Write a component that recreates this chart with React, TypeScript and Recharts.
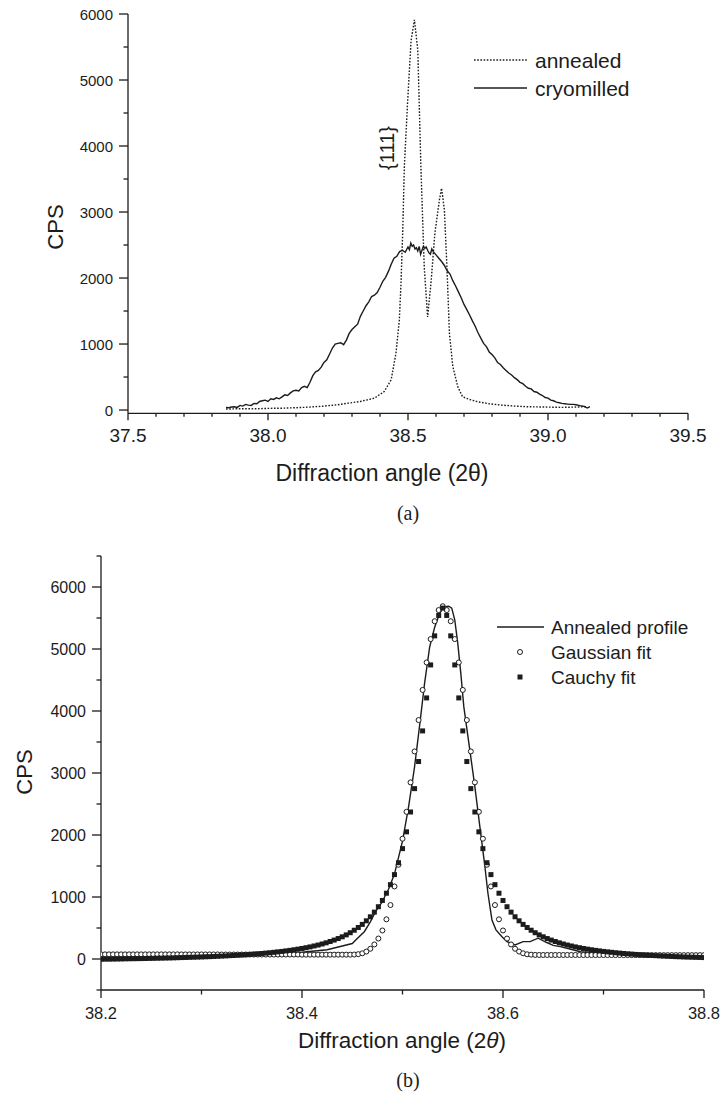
import React from "react"
import { ComposedChart, Line, Scatter, XAxis, YAxis } from "recharts"

const INK = "#1c1c1c"
const SANS = "'Liberation Sans', Arial, Helvetica, sans-serif"
const SERIF = "'Liberation Serif', 'Times New Roman', serif"

// ---------- (a) annealed vs cryomilled ----------
const annealedAngle = [
  37.85, 37.9, 37.95, 38.0, 38.05, 38.1, 38.15, 38.2, 38.25, 38.28, 38.33, 38.38, 38.415, 38.44, 38.457,
  38.469, 38.475, 38.481, 38.487, 38.499, 38.511, 38.523, 38.535, 38.546, 38.558, 38.57, 38.582, 38.596,
  38.612, 38.62, 38.63, 38.639, 38.648, 38.66, 38.678, 38.695, 38.72, 38.749, 38.79, 38.832, 38.88, 38.927,
  38.99, 39.05, 39.1, 39.14,
]
const annealedCps = [
  15, 20, 18, 25, 28, 35, 45, 60, 80, 100, 130, 180, 280, 460, 860,
  1360, 1920, 2680, 3690, 4700, 5600, 5910, 5450, 3690, 2170, 1410, 1920, 2680,
  3180, 3360, 3030, 2170, 1160, 660, 350, 200, 160, 125, 95, 75, 60, 50,
  45, 40, 45, 50,
]

const cryoAngle = [
  37.85, 37.86, 37.87, 37.88, 37.89, 37.9, 37.91, 37.92, 37.93, 37.94, 37.95, 37.96, 37.97, 37.98, 37.99,
  38.0, 38.01, 38.02, 38.03, 38.04, 38.05, 38.06, 38.07, 38.08, 38.09, 38.1, 38.11, 38.12, 38.13, 38.14,
  38.15, 38.16, 38.17, 38.18, 38.19, 38.2, 38.21, 38.22, 38.23, 38.24, 38.25, 38.26, 38.27, 38.28, 38.29,
  38.3, 38.31, 38.32, 38.33, 38.34, 38.35, 38.36, 38.37, 38.38, 38.39, 38.4, 38.41, 38.42, 38.43, 38.44,
  38.45, 38.46, 38.47, 38.48, 38.49, 38.5, 38.505, 38.51, 38.515, 38.52, 38.525, 38.53, 38.535, 38.54, 38.545,
  38.55, 38.555, 38.56, 38.565, 38.57, 38.575, 38.58, 38.585, 38.59, 38.6, 38.61, 38.62, 38.63, 38.64, 38.65,
  38.66, 38.67, 38.68, 38.69, 38.7, 38.71, 38.72, 38.73, 38.74, 38.75, 38.76, 38.77, 38.78, 38.79, 38.8,
  38.81, 38.82, 38.83, 38.84, 38.85, 38.86, 38.87, 38.88, 38.89, 38.9, 38.91, 38.92, 38.93, 38.94, 38.95,
  38.96, 38.97, 38.98, 38.99, 39.0, 39.01, 39.02, 39.03, 39.04, 39.05, 39.06, 39.07, 39.08, 39.09, 39.1,
  39.11, 39.12, 39.13, 39.14, 39.15,
]
const cryoCps = [
  40, 35, 45, 50, 40, 70, 60, 85, 75, 70, 100, 95, 130, 140, 150,
  130, 170, 160, 185, 170, 200, 230, 220, 260, 290, 300, 290, 340, 360, 340,
  420, 520, 580, 600, 650, 720, 760, 850, 940, 1000, 1010, 1020, 990, 1060, 1160,
  1220, 1260, 1300, 1420, 1500, 1580, 1640, 1720, 1740, 1780, 1860, 1950, 2010, 2100, 2210,
  2300, 2330, 2400, 2420, 2390, 2470, 2430, 2530, 2480, 2500, 2440, 2460, 2410, 2480, 2360,
  2420, 2480, 2450, 2470, 2420, 2380, 2360, 2440, 2400, 2350, 2300, 2250, 2190, 2110, 2060,
  1960, 1880, 1790, 1700, 1600, 1520, 1440, 1350, 1270, 1170, 1090, 1010, 960, 880, 840,
  790, 720, 690, 640, 600, 560, 530, 490, 460, 420, 400, 360, 330, 320, 280,
  270, 240, 220, 190, 180, 150, 140, 120, 110, 100, 95, 90, 85, 85, 80,
  70, 60, 55, 30, 50,
]

const aXTicks = [37.5, 37.6, 37.7, 37.8, 37.9, 38.0, 38.1, 38.2, 38.3, 38.4, 38.5, 38.6, 38.7, 38.8, 38.9, 39.0, 39.1, 39.2, 39.3, 39.4, 39.5]
const aYTicks = [0, 500, 1000, 1500, 2000, 2500, 3000, 3500, 4000, 4500, 5000, 5500, 6000]

// ---------- (b) annealed profile with fits ----------
const profileAngle = [
  38.2, 38.25, 38.3, 38.35, 38.4, 38.425, 38.45, 38.455, 38.462, 38.468, 38.473, 38.479, 38.486, 38.492,
  38.5, 38.506, 38.512, 38.517, 38.522, 38.527, 38.532, 38.537, 38.541, 38.546, 38.549, 38.552, 38.555,
  38.558, 38.561, 38.567, 38.572, 38.577, 38.582, 38.585, 38.589, 38.593, 38.599, 38.604, 38.612, 38.62,
  38.627, 38.635, 38.643, 38.65, 38.657, 38.677, 38.7, 38.75, 38.8,
]
const profileCps = [
  0, 15, 35, 60, 110, 150, 250, 330, 440, 600, 760, 900, 1120, 1370,
  1900, 2450, 3100, 3760, 4450, 5030, 5350, 5575, 5680, 5690, 5660, 5470, 5090,
  4610, 4070, 3370, 2780, 2130, 1490, 1060, 630, 470, 360, 280, 226, 280,
  280, 335, 270, 220, 200, 118, 85, 50, 25,
]

const fitAngle = [
  38.2, 38.204, 38.208, 38.212, 38.216, 38.22, 38.224, 38.228, 38.232, 38.236,
  38.24, 38.244, 38.248, 38.252, 38.256, 38.26, 38.264, 38.268, 38.272, 38.276,
  38.28, 38.284, 38.288, 38.292, 38.296, 38.3, 38.304, 38.308, 38.312, 38.316,
  38.32, 38.324, 38.328, 38.332, 38.336, 38.34, 38.344, 38.348, 38.352, 38.356,
  38.36, 38.364, 38.368, 38.372, 38.376, 38.38, 38.384, 38.388, 38.392, 38.396,
  38.4, 38.404, 38.408, 38.412, 38.416, 38.42, 38.424, 38.428, 38.432, 38.436,
  38.44, 38.444, 38.448, 38.452, 38.456, 38.46, 38.464, 38.468, 38.472, 38.476,
  38.48, 38.484, 38.488, 38.492, 38.496, 38.5, 38.504, 38.508, 38.512, 38.516,
  38.52, 38.524, 38.528, 38.532, 38.536, 38.54, 38.544, 38.548, 38.552, 38.556,
  38.56, 38.564, 38.568, 38.572, 38.576, 38.58, 38.584, 38.588, 38.592, 38.596,
  38.6, 38.604, 38.608, 38.612, 38.616, 38.62, 38.624, 38.628, 38.632, 38.636,
  38.64, 38.644, 38.648, 38.652, 38.656, 38.66, 38.664, 38.668, 38.672, 38.676,
  38.68, 38.684, 38.688, 38.692, 38.696, 38.7, 38.704, 38.708, 38.712, 38.716,
  38.72, 38.724, 38.728, 38.732, 38.736, 38.74, 38.744, 38.748, 38.752, 38.756,
  38.76, 38.764, 38.768, 38.772, 38.776, 38.78, 38.784, 38.788, 38.792, 38.796,
  38.8,
]
const gaussCps = [
  75, 75, 75, 75, 75, 75, 75, 75, 75, 75,
  75, 75, 75, 75, 75, 75, 75, 75, 75, 75,
  74, 74, 74, 74, 74, 74, 74, 74, 74, 74,
  72, 72, 72, 72, 72, 72, 72, 72, 72, 72,
  72, 72, 72, 72, 72, 72, 72, 72, 72, 72,
  70, 70, 70, 70, 70, 70, 70, 70, 70, 70,
  70, 70, 70, 72, 78, 92, 120, 165, 235, 330,
  460, 640, 870, 1170, 1520, 1940, 2374, 2849, 3348, 3854,
  4340, 4783, 5160, 5448, 5628, 5690, 5628, 5448, 5160, 4783,
  4340, 3854, 3348, 2849, 2374, 1940, 1520, 1170, 870, 640,
  460, 330, 235, 165, 120, 92, 76, 70, 66, 65,
  65, 65, 65, 65, 65, 65, 65, 65, 65, 65,
  64, 64, 64, 64, 64, 64, 64, 64, 64, 64,
  63, 63, 63, 63, 63, 63, 63, 63, 63, 63,
  62, 62, 62, 62, 62, 62, 62, 62, 62, 62,
  62,
]
const cauchyCps = [
  -3, -2, -2, -1, 0, 1, 3, 4, 5, 6,
  7, 8, 10, 11, 13, 14, 16, 17, 19, 21,
  23, 25, 27, 29, 31, 33, 36, 38, 41, 44,
  47, 50, 54, 57, 61, 65, 69, 74, 79, 84,
  89, 95, 101, 108, 115, 122, 131, 139, 149, 159,
  170, 182, 195, 210, 225, 242, 261, 282, 305, 330,
  358, 389, 424, 464, 508, 558, 616, 681, 756, 843,
  944, 1061, 1199, 1361, 1553, 1780, 2051, 2371, 2748, 3185,
  3679, 4211, 4743, 5212, 5541, 5660, 5541, 5212, 4743, 4211,
  3679, 3185, 2748, 2371, 2051, 1780, 1553, 1361, 1199, 1061,
  944, 843, 756, 681, 616, 558, 508, 464, 424, 389,
  358, 330, 305, 282, 261, 242, 225, 210, 195, 182,
  170, 159, 149, 139, 131, 122, 115, 108, 101, 95,
  89, 84, 79, 74, 69, 65, 61, 57, 54, 50,
  47, 44, 41, 38, 36, 33, 31, 29, 27, 25,
  23,
]

const bXTicks = [38.2, 38.3, 38.4, 38.5, 38.6, 38.7, 38.8]
const bYTicks = [-500, 0, 500, 1000, 1500, 2000, 2500, 3000, 3500, 4000, 4500, 5000, 5500, 6000, 6500]

const pairs = (xs: number[], ys: number[]) => xs.map((angle, i) => ({ angle, cps: ys[i] }))

const annealedData = pairs(annealedAngle, annealedCps)
const cryoData = pairs(cryoAngle, cryoCps)
const profileData = pairs(profileAngle, profileCps)
const gaussData = pairs(fitAngle, gaussCps)
const cauchyData = pairs(fitAngle, cauchyCps)

type TickOpts = {
  major: (v: number) => boolean
  long: number
  short: number
  gap: number
  size: number
  fmt: (v: number) => string
}

// axis ticks drawn by hand so minor ticks can be shorter than the labelled ones
const bottomTick = (o: TickOpts) => (p: any) => {
  const v = p.payload.value
  const big = o.major(v)
  return (
    <g>
      <line x1={p.x} x2={p.x} y1={p.y} y2={p.y + (big ? o.long : o.short)} stroke={INK} strokeWidth={1.3} />
      {big && (
        <text x={p.x} y={p.y + o.gap} textAnchor="middle" dominantBaseline="central" fontSize={o.size} fontFamily={SANS} fill={INK}>
          {o.fmt(v)}
        </text>
      )}
    </g>
  )
}

const leftTick = (o: TickOpts) => (p: any) => {
  const v = p.payload.value
  const big = o.major(v)
  return (
    <g>
      <line x1={p.x - (big ? o.long : o.short)} x2={p.x} y1={p.y} y2={p.y} stroke={INK} strokeWidth={1.3} />
      {big && (
        <text x={p.x - o.gap} y={p.y} textAnchor="end" dominantBaseline="central" fontSize={o.size} fontFamily={SANS} fill={INK}>
          {o.fmt(v)}
        </text>
      )}
    </g>
  )
}

const onStep = (v: number, step: number) => Math.abs(v / step - Math.round(v / step)) < 1e-6
const axisLine = { stroke: INK, strokeWidth: 1.3 }

const openCircle = (p: any) => <circle cx={p.cx} cy={p.cy} r={2.5} fill="#fff" stroke={INK} strokeWidth={1} />
const blackSquare = (p: any) => <rect x={p.cx - 2.5} y={p.cy - 2.5} width={5} height={5} fill={INK} />

function ChartA() {
  return (
    <ComposedChart width={722} height={540} margin={{ top: 14, right: 34, bottom: 86.67, left: 0 }}>
      <XAxis
        type="number" dataKey="angle" domain={[37.5, 39.5]} ticks={aXTicks} interval={0}
        allowDataOverflow height={40} tickSize={0} tickMargin={0} tickLine={false} axisLine={axisLine}
        tick={bottomTick({ major: (v) => onStep(v, 0.5), long: 7, short: 3.5, gap: 22, size: 19, fmt: (v) => v.toFixed(1) })}
      />
      <YAxis
        type="number" dataKey="cps" domain={[-50, 6000]} ticks={aYTicks} interval={0}
        allowDataOverflow width={128} tickSize={0} tickMargin={0} tickLine={false} axisLine={axisLine}
        tick={leftTick({ major: (v) => onStep(v, 1000), long: 9, short: 4.5, gap: 15, size: 15, fmt: (v) => String(v) })}
      />
      <Line data={annealedData} dataKey="cps" type="linear" stroke={INK} strokeWidth={1.4} strokeDasharray="1.6 1.6" dot={false} isAnimationActive={false} />
      <Line data={cryoData} dataKey="cps" type="linear" stroke={INK} strokeWidth={1.4} dot={false} isAnimationActive={false} />
    </ComposedChart>
  )
}

function ChartB() {
  return (
    <ComposedChart width={722} height={560} margin={{ top: 16, right: 18, bottom: 70, left: 0 }}>
      <XAxis
        type="number" dataKey="angle" domain={[38.2, 38.8]} ticks={bXTicks} interval={0}
        allowDataOverflow height={40} tickSize={0} tickMargin={0} tickLine={false} axisLine={axisLine}
        tick={bottomTick({ major: (v) => onStep(v, 0.2), long: 8, short: 4.5, gap: 22.5, size: 16.5, fmt: (v) => v.toFixed(1) })}
      />
      <YAxis
        type="number" dataKey="cps" domain={[-500, 6500]} ticks={bYTicks} interval={0}
        allowDataOverflow width={101} tickSize={0} tickMargin={0} tickLine={false} axisLine={axisLine}
        tick={leftTick({ major: (v) => v >= 0 && v <= 6000 && onStep(v, 1000), long: 9, short: 4.5, gap: 15, size: 16, fmt: (v) => String(v) })}
      />
      <Line data={profileData} dataKey="cps" type="linear" stroke={INK} strokeWidth={1.4} dot={false} isAnimationActive={false} />
      <Scatter data={gaussData} dataKey="cps" shape={openCircle} isAnimationActive={false} />
      <Scatter data={cauchyData} dataKey="cps" shape={blackSquare} isAnimationActive={false} />
    </ComposedChart>
  )
}

export default function App() {
  const txt = { fontFamily: SANS, fill: INK, dominantBaseline: "central" as const }
  return (
    <div style={{ position: "absolute", left: 0, top: 0, width: 722, height: 1100, background: "#fff" }}>
      <div style={{ position: "absolute", left: 0, top: 0 }}>
        <ChartA />
      </div>
      <div style={{ position: "absolute", left: 0, top: 540 }}>
        <ChartB />
      </div>
      <svg width={722} height={1100} style={{ position: "absolute", left: 0, top: 0, pointerEvents: "none" }}>
        {/* (a) titles, note and legend */}
        <text {...txt} transform="translate(55,227) rotate(-90)" textAnchor="middle" fontSize={22}>CPS</text>
        <text {...txt} x={382} y={473} textAnchor="middle" fontSize={23}>Diffraction angle (2θ)</text>
        <text {...txt} x={408} y={513} textAnchor="middle" fontSize={20} fontFamily={SERIF}>(a)</text>
        <text {...txt} transform="translate(387,148) rotate(-90)" textAnchor="middle" fontSize={20}>{"{111}"}</text>
        <line x1={474} x2={527} y1={60} y2={60} stroke={INK} strokeWidth={1.4} strokeDasharray="1.6 1.6" />
        <text {...txt} x={535} y={60} fontSize={21}>annealed</text>
        <line x1={474} x2={527} y1={88} y2={88} stroke={INK} strokeWidth={1.4} />
        <text {...txt} x={535} y={88} fontSize={21}>cryomilled</text>

        {/* (b) titles and legend */}
        <text {...txt} transform="translate(24,772) rotate(-90)" textAnchor="middle" fontSize={22}>CPS</text>
        <text {...txt} x={402} y={1040} textAnchor="middle" fontSize={22.5}>
          Diffraction angle (2<tspan fontStyle="italic">θ</tspan>)
        </text>
        <text {...txt} x={408} y={1080} textAnchor="middle" fontSize={20} fontFamily={SERIF}>(b)</text>
        <line x1={497} x2={544} y1={627} y2={627} stroke={INK} strokeWidth={1.4} />
        <text {...txt} x={551} y={627} fontSize={19}>Annealed profile</text>
        <circle cx={520} cy={652} r={2.5} fill="#fff" stroke={INK} strokeWidth={1} />
        <text {...txt} x={551} y={652} fontSize={19}>Gaussian fit</text>
        <rect x={517.5} y={674.5} width={5} height={5} fill={INK} />
        <text {...txt} x={551} y={677} fontSize={19}>Cauchy fit</text>
      </svg>
    </div>
  )
}
